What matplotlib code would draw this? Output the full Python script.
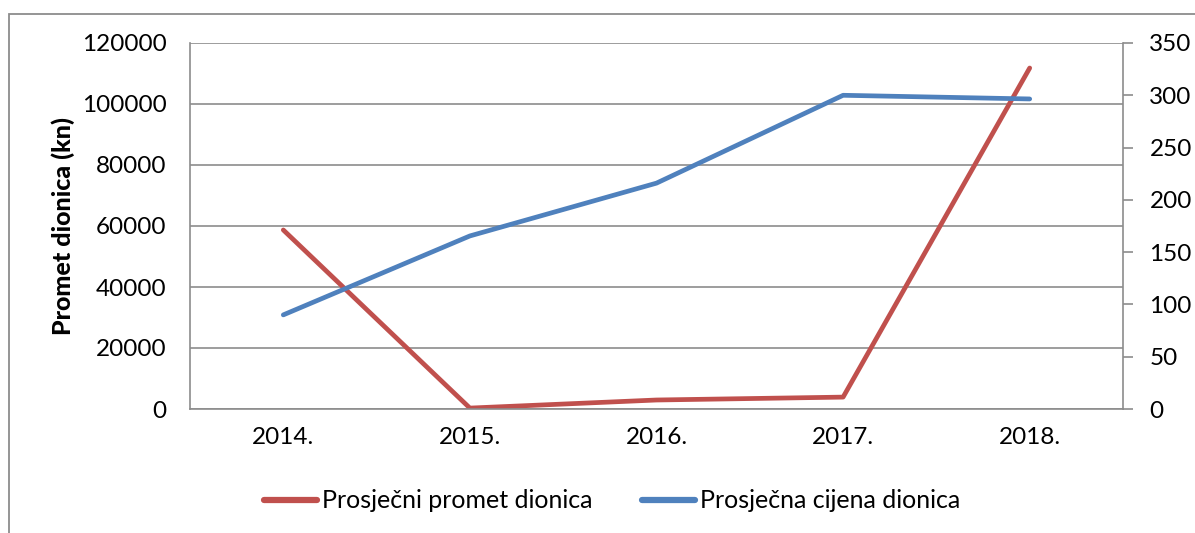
import matplotlib
matplotlib.use("Agg")
import matplotlib.pyplot as plt
from matplotlib.lines import Line2D
from matplotlib.patches import Rectangle

years = ["2014.", "2015.", "2016.", "2017.", "2018."]
promet = [58700, 300, 2950, 3900, 111800]
cijena = [90, 165.5, 216, 300, 296.5]
left_ticks = [0, 20000, 40000, 60000, 80000, 100000, 120000]
right_ticks = [0, 50, 100, 150, 200, 250, 300, 350]

RED = "#C0504D"
BLUE = "#4F81BD"
GRID = "#8C8C8C"

plt.rcParams['font.family'] = ['Lato', 'DejaVu Sans']
FS = 17.5

W, H = 1195, 533
fig = plt.figure(figsize=(W / 100, H / 100), dpi=100)

# outer frame
fig.patches.append(Rectangle((9 / W, -0.1), 1.2, (H - 14) / H + 0.1, transform=fig.transFigure,
                             fill=False, edgecolor="#8C8C8C", linewidth=1.3))

x0, x1, y0, y1 = 190, 1123, 43, 409
ax = fig.add_axes([x0 / W, 1 - y1 / H, (x1 - x0) / W, (y1 - y0) / H])
ax2 = ax.twinx()

x = list(range(len(years)))
ax.plot(x, promet, color=RED, linewidth=3.4, solid_capstyle="round")
ax2.plot(x, cijena, color=BLUE, linewidth=3.4, solid_capstyle="round")

ax.set_xlim(-0.5, len(years) - 0.5)
ax.set_ylim(0, 120000)
ax2.set_ylim(0, 350)
ax.set_yticks(left_ticks)
ax.set_yticklabels([str(v) for v in left_ticks], fontsize=FS)
ax2.set_yticks(right_ticks)
ax2.set_yticklabels([str(v) for v in right_ticks], fontsize=FS)
ax.set_xticks(x)
ax.set_xticklabels(years, fontsize=FS)

ax.grid(axis="y", color=GRID, linewidth=1.2)
ax.set_axisbelow(True)
for a in (ax, ax2):
    for s in a.spines.values():
        s.set_visible(False)
ax.spines["left"].set_visible(True)
ax.spines["left"].set_color(GRID)
ax.spines["left"].set_linewidth(1.2)
ax.spines["bottom"].set_visible(True)
ax.spines["bottom"].set_color(GRID)
ax.spines["bottom"].set_linewidth(1.2)
ax2.spines["right"].set_visible(True)
ax2.spines["right"].set_color(GRID)
ax2.spines["right"].set_linewidth(1.2)

ax.tick_params(axis="y", length=0, pad=17)
ax.tick_params(axis="x", length=0, pad=13)
ax2.tick_params(axis="y", length=7, width=1.2, color=GRID, pad=12)

ax.set_ylabel("Promet dionica (kn)", fontsize=FS + 0.5, fontweight="black", labelpad=5)

handles = [Line2D([0], [0], color=RED, linewidth=4.5, solid_capstyle="round"),
           Line2D([0], [0], color=BLUE, linewidth=4.5, solid_capstyle="round")]
fig.legend(handles, ["Prosječni promet dionica", "Prosječna cijena dionica"],
           loc="center", bbox_to_anchor=(612 / W, 1 - 501 / H), ncol=2, frameon=False,
           fontsize=18, handlelength=2.1, handletextpad=0.2, columnspacing=2.0)

fig.savefig("out.png", dpi=100)
